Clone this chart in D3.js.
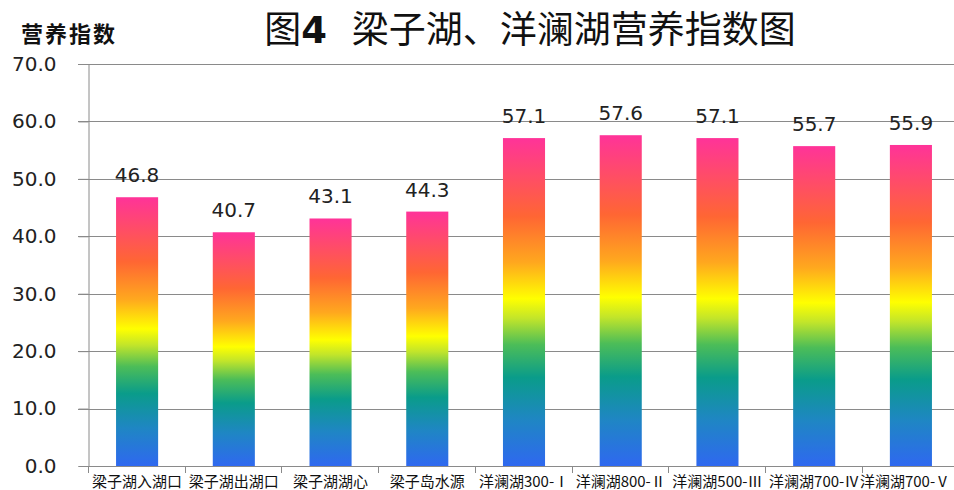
<!DOCTYPE html>
<html>
<head>
<meta charset="utf-8">
<script src="https://cdn.jsdelivr.net/npm/d3@7"></script>
<style>
  body { margin: 0; background: #fff; }
  svg { display: block; }
</style>
</head>
<body>
<svg id="chart" width="954" height="490"></svg>
<script>
const categories = ["梁子湖入湖口", "梁子湖出湖口", "梁子湖湖心", "梁子岛水源",
  "洋澜湖300-Ⅰ", "洋澜湖800-Ⅱ", "洋澜湖500-Ⅲ", "洋澜湖700-Ⅳ", "洋澜湖700-Ⅴ"];
const values = [46.8, 40.7, 43.1, 44.3, 57.1, 57.6, 57.1, 55.7, 55.9];
const yTicks = [0, 10, 20, 30, 40, 50, 60, 70];

const svg = d3.select("#chart");
const margin = { top: 64, left: 88 };
const plotRight = 960;
const plotBottom = 466;

const x = d3.scaleBand()
  .domain(categories)
  .range([margin.left, plotRight])
  .paddingInner(0.565)
  .paddingOuter(0.29);
const y = d3.scaleLinear().domain([0, 70]).range([plotBottom, margin.top]);

// gradient, relative to each bar
const defs = svg.append("defs");
const grad = defs.append("linearGradient")
  .attr("id", "rainbow")
  .attr("x1", 0).attr("y1", 1).attr("x2", 0).attr("y2", 0);
[
  [0, "#2f68f0"],
  [0.14, "#1f86c4"],
  [0.27, "#0a9c8a"],
  [0.37, "#4cbd58"],
  [0.45, "#c2e52a"],
  [0.51, "#ffff00"],
  [0.62, "#ffa81e"],
  [0.76, "#ff6633"],
  [0.88, "#ff4d66"],
  [1, "#ff3399"]
].forEach(([o, c]) => grad.append("stop").attr("offset", o).attr("stop-color", c));

// gridlines
svg.append("g")
  .selectAll("line")
  .data(yTicks.filter(d => d > 0))
  .join("line")
  .attr("x1", margin.left - 10)
  .attr("x2", 954)
  .attr("y1", d => Math.round(y(d)) + 0.5)
  .attr("y2", d => Math.round(y(d)) + 0.5)
  .attr("stroke", "#8a8a8a")
  .attr("stroke-width", 1);

// y axis
const yAxis = svg.append("g")
  .attr("transform", `translate(${margin.left + 0.5},0)`)
  .call(d3.axisLeft(y).tickValues(yTicks).tickSize(10).tickPadding(22).tickFormat(d3.format(".1f")));
yAxis.select(".domain").attr("stroke", "#8a8a8a");
yAxis.selectAll(".tick line").attr("stroke", "#8a8a8a");
yAxis.selectAll(".tick text")
  .attr("fill", "#222")
  .style("font-family", "DejaVu Sans, sans-serif")
  .style("font-size", "20px");

// x axis
const boundaries = d3.range(categories.length + 1).map(i => margin.left + i * x.step());
svg.append("line")
  .attr("x1", margin.left).attr("x2", 954)
  .attr("y1", plotBottom + 0.5).attr("y2", plotBottom + 0.5)
  .attr("stroke", "#8a8a8a");
svg.append("g")
  .selectAll("line")
  .data(boundaries)
  .join("line")
  .attr("x1", d => Math.round(d) + 0.5)
  .attr("x2", d => Math.round(d) + 0.5)
  .attr("y1", plotBottom).attr("y2", plotBottom + 7)
  .attr("stroke", "#8a8a8a");

svg.append("g")
  .selectAll("text")
  .data(categories)
  .join("text")
  .attr("x", d => Math.min(x(d) + x.bandwidth() / 2, 950 - 45))
  .attr("y", 487)
  .attr("text-anchor", "middle")
  .attr("fill", "#111")
  .style("font-family", "Noto Sans CJK SC, sans-serif")
  .style("font-size", "15px")
  .text(d => d);

// bars
svg.append("g")
  .selectAll("rect")
  .data(values)
  .join("rect")
  .attr("x", (d, i) => x(categories[i]))
  .attr("y", d => y(d))
  .attr("width", x.bandwidth())
  .attr("height", d => y(0) - y(d))
  .attr("fill", "url(#rainbow)");

// value labels
svg.append("g")
  .selectAll("text")
  .data(values)
  .join("text")
  .attr("x", (d, i) => x(categories[i]) + x.bandwidth() / 2)
  .attr("y", d => y(d) - 15)
  .attr("text-anchor", "middle")
  .attr("fill", "#222")
  .style("font-family", "DejaVu Sans, sans-serif")
  .style("font-size", "20px")
  .text(d => d.toFixed(1));

// title
svg.append("text")
  .attr("x", 530)
  .attr("y", 43)
  .attr("text-anchor", "middle")
  .attr("fill", "#111")
  .style("font-family", "Noto Sans CJK SC, sans-serif")
  .style("font-size", "37px")
  .style("font-weight", 400)
  .html('图<tspan font-weight="700" font-family="DejaVu Sans">4</tspan>\u00a0\u00a0\u00a0梁子湖、洋澜湖营养指数图');

// y axis title
svg.append("text")
  .attr("x", 21)
  .attr("y", 42)
  .attr("fill", "#111")
  .style("font-family", "Noto Sans CJK SC, sans-serif")
  .style("font-size", "22px")
  .style("font-weight", 700)
  .style("letter-spacing", "2px")
  .text("营养指数");
</script>
</body>
</html>
